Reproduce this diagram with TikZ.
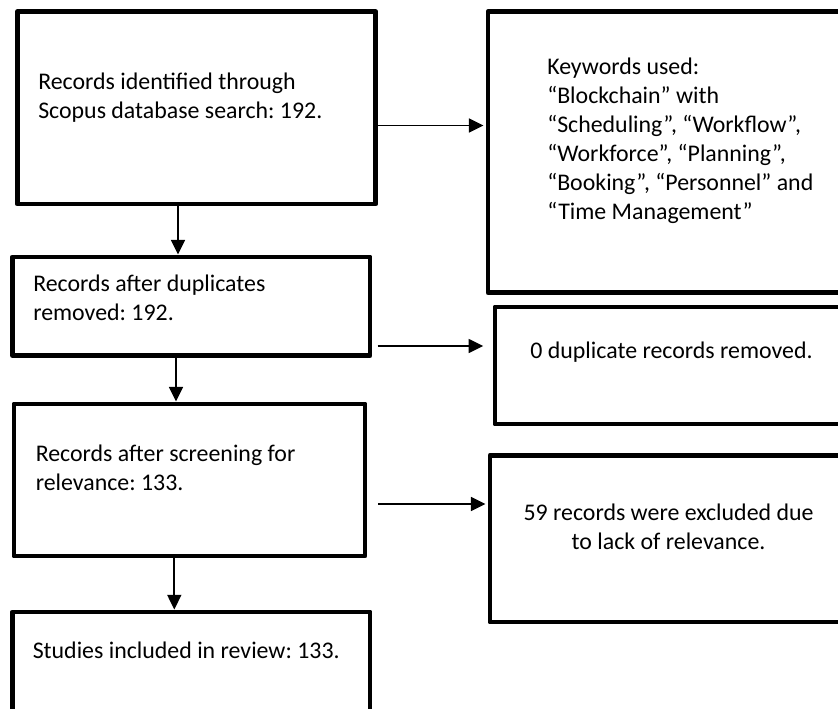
\documentclass[tikz,border=0pt]{standalone}
\usepackage{fontspec}
\setmainfont{Carlito}
\frenchspacing
\usetikzlibrary{arrows.meta,fit}
\begin{document}
\begin{tikzpicture}[x=0.75pt,y=-0.75pt,
  box/.style={draw=black, line width=3.7pt, line join=round, inner sep=0pt},
  txtfont/.style={font=\fontsize{17.9pt}{21.8pt}\selectfont},
  lbl/.style={txtfont, inner sep=0pt, anchor=base west},
  clbl/.style={txtfont, inner sep=0pt, anchor=base},
  arr/.style={line width=1.25pt, -{Triangle[length=11pt,width=10.5pt]}}
]
% page area
\useasboundingbox (0,0) rectangle (838,709);
\fill[white] (0,0) rectangle (838,709);
\clip (0,0) rectangle (838,709);

% left column of stages
\node[box, fit={(17.5,11.7) (375.7,204)}] (b1) {};
\node[box, fit={(12.5,257) (370,355.5)}] (b2) {};
\node[box, fit={(14,404) (365,556)}] (b3) {};
\node[box, fit={(12.5,612) (370,740)}] (b4) {};

% right column of notes
\node[box, fit={(488,11.7) (850,292.5)}] (r1) {};
\node[box, fit={(495,307) (850,424)}] (r2) {};
\node[box, fit={(490,455.5) (850,622)}] (r3) {};

% texts
\node[lbl] (t1) at (38,89.3) {\begin{tabular}[t]{@{}l@{}}Records identified through\\Scopus database search: 192.\end{tabular}};
\node[lbl] (t2) at (33,291.7) {\begin{tabular}[t]{@{}l@{}}Records after duplicates\\removed: 192.\end{tabular}};
\node[lbl] (t3) at (35.5,461.7) {\begin{tabular}[t]{@{}l@{}}Records after screening for\\relevance: 133.\end{tabular}};
\node[lbl] (t4) at (32.5,658) {Studies included in review: 133.};
\node[lbl] (u1) at (547,74.5) {\begin{tabular}[t]{@{}l@{}}Keywords used:\\“Blockchain” with\\“Scheduling”, “Workflow”,\\“Workforce”, “Planning”,\\“Booking”, “Personnel” and\\“Time Management”\end{tabular}};
\node[clbl] (u2) at (671.5,358) {0 duplicate records removed.};
\node[clbl] (u3) at (668.5,520) {\begin{tabular}[t]{@{}c@{}}59 records were excluded due\\to lack of relevance.\end{tabular}};

% flow downwards
\draw[arr] (b1.south -| 178,0) -- (b2.north -| 178,0);
\draw[arr] (b2.south -| 176,0) -- (b3.north -| 176,0);
\draw[arr] (b3.south -| 174.3,0) -- (b4.north -| 174.3,0);

% exclusions to the side
\draw[arr] (b1.east |- 0,125.5) -- ([xshift=-1.5pt]r1.west |- 0,125.5);
\draw[arr] ([xshift=3.8pt]b2.east |- 0,346) -- ([xshift=-7pt]r2.west |- 0,346);
\draw[arr] ([xshift=8pt]b3.east |- 0,504) -- ([xshift=-1.5pt]r3.west |- 0,504);
\end{tikzpicture}
\end{document}
